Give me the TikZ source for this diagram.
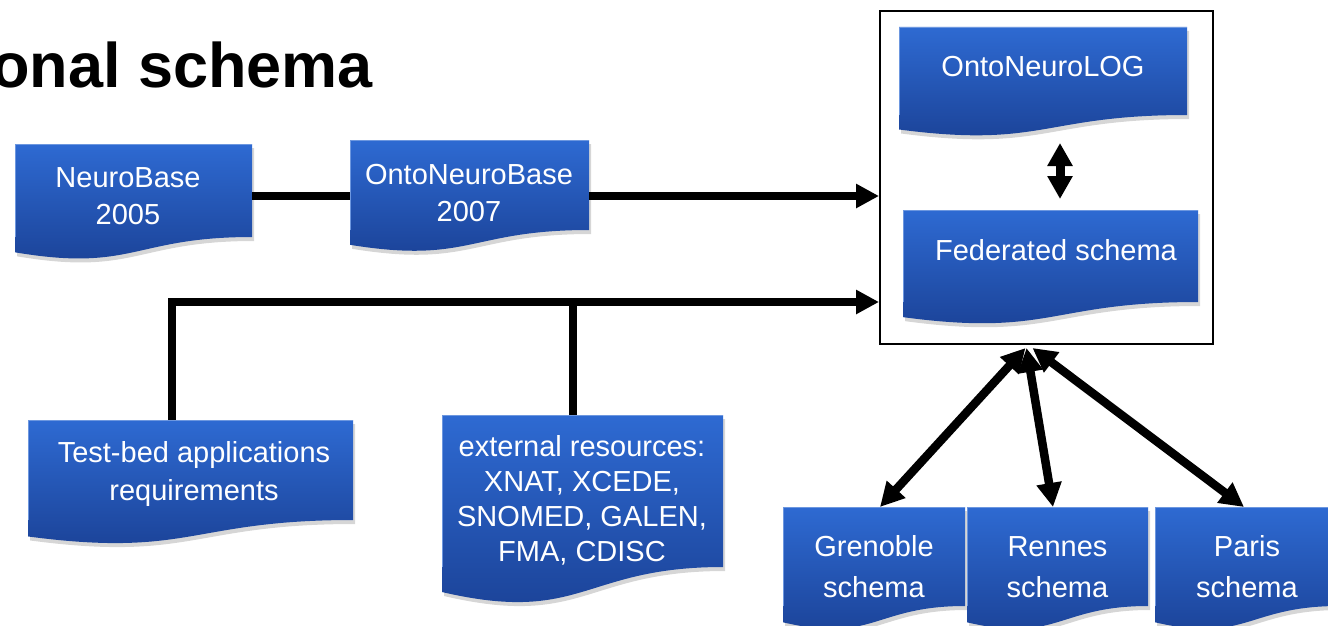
\documentclass[tikz,border=0pt]{standalone}
\usepackage{fontspec}
\setmainfont{Liberation Sans}
\usetikzlibrary{arrows.meta,calc}
\definecolor{docTop}{RGB}{46,106,210}
\definecolor{docBot}{RGB}{26,64,148}
\newcommand\docbox[5]{%
  \node[inner sep=0pt,outer sep=0pt,minimum width=#4pt,minimum height=#5pt] (#1) at (#2,#3) {};
  \begin{scope}[transform canvas={xshift=2pt,yshift=-4pt}]
    \fill[black,opacity=0.16] (#1.north west) -- (#1.north east) -- (#1.south east)
      .. controls (#1.south) and ($(#1.south)!-0.38!(#1.north)$) .. ($(#1.south west)!-0.1646!(#1.north west)$) -- cycle;
  \end{scope}
  \shade[top color=docTop,bottom color=docBot] (#1.north west) -- (#1.north east) -- (#1.south east)
      .. controls (#1.south) and ($(#1.south)!-0.38!(#1.north)$) .. ($(#1.south west)!-0.1646!(#1.north west)$) -- cycle;
  \draw[docTop!70!white,line width=0.8pt] (#1.south west) -- (#1.north west) -- (#1.north east);
}
\begin{document}
\begin{tikzpicture}[x=1pt,y=-1pt,
  doctext/.style={text=white,align=center,inner sep=0pt,font=\fontsize{29}{37}\selectfont},
  conn/.style={line width=7.5pt},
  tipA/.style={-{Triangle[length=23pt,width=23pt]}},
  tipB/.style={{Triangle[length=24pt,width=24pt]}-{Triangle[length=24pt,width=24pt]}},
  tipC/.style={{Triangle[length=23pt,width=24pt]}-{Triangle[length=23pt,width=24pt]}}]
\useasboundingbox (0,0) rectangle (1328,626);
\clip (0,0) rectangle (1328,626);

% title
\node[font=\bfseries\fontsize{63}{63}\selectfont,anchor=base east,inner sep=0pt] (title) at (373,88) {onal schema};

% outer box
\node[draw,line width=2pt,inner sep=0pt,minimum width=333pt,minimum height=333pt] (fedbox) at (1046.5,177.5) {};

% documents
\docbox{nb}{133.5}{190.5}{237}{93}
\node[doctext] (nbt) at (128,196) {NeuroBase\\2005};

\docbox{onb}{469.5}{185}{239}{90}
\node[doctext] (onbt) at (469,193) {OntoNeuroBase\\2007};

\docbox{onl}{1043}{71}{288}{88}
\node[doctext] (onlt) at (1043,67) {OntoNeuroLOG};

\docbox{fed}{1050.5}{256}{295}{92}
\node[doctext] (fedt) at (1056,250) {Federated schema};

\docbox{tb}{190.5}{470}{325}{100}
\node[doctext,font=\fontsize{29}{38}\selectfont] (tbt) at (194,474) {Test-bed applications\\requirements};

\docbox{ext}{582.5}{491}{281}{152}
\node[doctext,font=\fontsize{29}{35}\selectfont] (extt) at (582,500) {external resources:\\XNAT, XCEDE,\\SNOMED, GALEN,\\FMA, CDISC};

\docbox{gre}{874}{556.5}{182}{99}
\node[doctext,font=\fontsize{29}{41}\selectfont] (gret) at (874,567) {Grenoble\\schema};

\docbox{ren}{1057.5}{556.5}{181}{99}
\node[doctext,font=\fontsize{29}{41}\selectfont] (rent) at (1057.5,567) {Rennes\\schema};

\docbox{par}{1247}{556.5}{184}{99}
\node[doctext,font=\fontsize{29}{41}\selectfont] (part) at (1247,567) {Paris\\schema};

% helper coordinates
\coordinate (yA) at (0,196);
\coordinate (yB) at (0,302);
\coordinate (xT) at (172,0);
\coordinate (xE) at (573,0);

% connectors
\draw[conn] (nb.east |- yA) -- (onb.west |- yA);
\draw[conn,tipA] (onb.east |- yA) -- (fedbox.west |- yA);
\draw[conn,tipA] (xT |- tb.north) |- (fedbox.west |- yB);
\draw[conn] (xE |- ext.north) -- (xE |- yB);

\draw[line width=9pt,tipC] ([xshift=17pt,yshift=-28pt]onl.south) -- ([xshift=9.5pt,yshift=11pt]fed.north);

\draw[line width=8.5pt,tipB] ([xshift=-21pt,yshift=-3pt]fedbox.south) -- ([xshift=6pt]gre.north);
\draw[line width=8.5pt,tipB] ([xshift=-20pt,yshift=-3pt]fedbox.south) -- ([xshift=-4.5pt]ren.north);
\draw[line width=8.5pt,tipB] ([xshift=-14pt,yshift=-3pt]fedbox.south) -- ([xshift=-3pt]par.north);
\end{tikzpicture}
\end{document}
